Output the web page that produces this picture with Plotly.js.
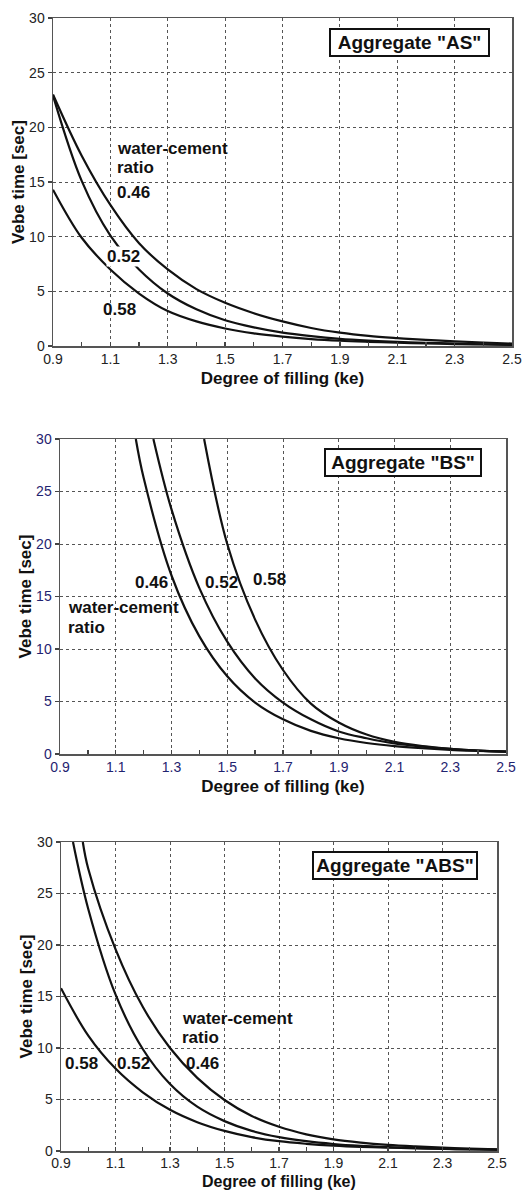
<!DOCTYPE html>
<html>
<head>
<meta charset="utf-8">
<script src="https://cdn.plot.ly/plotly-3.0.1.min.js"></script>
<style>html,body{margin:0;padding:0;background:#fff;}#chart{width:529px;height:1191px;}</style>
</head>
<body>
<div id="chart"></div>
<script>
// ---------- data ----------
var xTicks = [0.9, 1.1, 1.3, 1.5, 1.7, 1.9, 2.1, 2.3, 2.5];
var xTickLabels = ['0.9', '1.1', '1.3', '1.5', '1.7', '1.9', '2.1', '2.3', '2.5'];
var yTicks = [0, 5, 10, 15, 20, 25, 30];

// Aggregate "AS"
var AS_x = [0.9, 1.0, 1.1, 1.2, 1.3, 1.4, 1.5, 1.6, 1.7, 1.8, 1.9, 2.0, 2.1, 2.2, 2.3, 2.4, 2.5];
var AS_046 = [23.0, 17.4, 12.9, 9.4, 7.0, 5.2, 3.95, 3.0, 2.25, 1.65, 1.22, 0.92, 0.72, 0.56, 0.43, 0.32, 0.22];
var AS_052 = [22.9, 15.1, 10.1, 7.0, 4.8, 3.35, 2.35, 1.7, 1.22, 0.9, 0.66, 0.5, 0.38, 0.29, 0.22, 0.16, 0.11];
var AS_058 = [14.3, 9.9, 7.0, 4.8, 3.2, 2.25, 1.6, 1.15, 0.85, 0.63, 0.48, 0.38, 0.3, 0.24, 0.18, 0.14, 0.1];

// Aggregate "BS"
var BS_046_x = [1.172, 1.2, 1.3, 1.4, 1.5, 1.6, 1.7, 1.8, 1.9, 2.0, 2.1, 2.2, 2.3, 2.4, 2.5];
var BS_046 = [30, 26.3, 17.0, 11.2, 7.4, 4.9, 3.3, 2.2, 1.5, 1.05, 0.75, 0.55, 0.4, 0.3, 0.22];
var BS_052_x = [1.235, 1.3, 1.4, 1.5, 1.6, 1.7, 1.8, 1.9, 2.0, 2.1, 2.2, 2.3, 2.4, 2.5];
var BS_052 = [30, 23.3, 15.8, 10.7, 7.2, 4.9, 3.3, 2.15, 1.5, 1.0, 0.7, 0.48, 0.32, 0.22];
var BS_058_x = [1.417, 1.5, 1.6, 1.7, 1.8, 1.9, 2.0, 2.1, 2.2, 2.3, 2.4, 2.5];
var BS_058 = [30, 20.0, 12.8, 8.0, 4.8, 3.0, 1.85, 1.15, 0.75, 0.5, 0.33, 0.22];

// Aggregate "ABS"
var ABS_046_x = [0.98, 1.0, 1.1, 1.2, 1.3, 1.4, 1.5, 1.6, 1.7, 1.8, 1.9, 2.0, 2.1, 2.2, 2.3, 2.4, 2.5];
var ABS_046 = [30, 27.4, 19.6, 14.0, 10.0, 7.1, 4.95, 3.4, 2.35, 1.62, 1.13, 0.82, 0.6, 0.45, 0.33, 0.23, 0.15];
var ABS_052_x = [0.944, 1.0, 1.1, 1.2, 1.3, 1.4, 1.5, 1.6, 1.7, 1.8, 1.9, 2.0, 2.1, 2.2, 2.3, 2.4, 2.5];
var ABS_052 = [30, 23.5, 15.2, 9.9, 6.5, 4.3, 2.9, 1.95, 1.35, 0.95, 0.68, 0.5, 0.38, 0.29, 0.22, 0.16, 0.12];
var ABS_058_x = [0.9, 1.0, 1.1, 1.2, 1.3, 1.4, 1.5, 1.6, 1.7, 1.8, 1.9, 2.0, 2.1, 2.2, 2.3, 2.4, 2.5];
var ABS_058 = [15.8, 11.2, 8.0, 5.7, 4.0, 2.8, 1.95, 1.35, 0.95, 0.7, 0.52, 0.4, 0.32, 0.26, 0.21, 0.17, 0.14];

var panelTitles = ['Aggregate "AS"', 'Aggregate "BS"', 'Aggregate "ABS"'];
var xTitle = 'Degree of filling (ke)';
var yTitle = 'Vebe time [sec]';

// ---------- helpers ----------
var W = 529, H = 1191;
function px(v) { return v / W; }
function py(v) { return 1 - v / H; }
var FAM = 'Liberation Sans, Arial, Helvetica, sans-serif';

function line(x, y, xa, ya, name) {
  return {
    x: x, y: y, xaxis: xa, yaxis: ya, name: name,
    type: 'scatter', mode: 'lines',
    line: { color: '#111', width: 2.2, shape: 'spline', smoothing: 1 },
    hoverinfo: 'x+y+name'
  };
}

var data = [
  line(AS_x, AS_046, 'x', 'y', '0.46'),
  line(AS_x, AS_052, 'x', 'y', '0.52'),
  line(AS_x, AS_058, 'x', 'y', '0.58'),
  line(BS_046_x, BS_046, 'x2', 'y2', '0.46'),
  line(BS_052_x, BS_052, 'x2', 'y2', '0.52'),
  line(BS_058_x, BS_058, 'x2', 'y2', '0.58'),
  line(ABS_046_x, ABS_046, 'x3', 'y3', '0.46'),
  line(ABS_052_x, ABS_052, 'x3', 'y3', '0.52'),
  line(ABS_058_x, ABS_058, 'x3', 'y3', '0.58')
];

function xAxis(domain, anchor, tickColor, standoff, titleText, labelShift) {
  return {
    domain: domain, anchor: anchor,
    range: [0.9, 2.5], tickmode: 'array', tickvals: xTicks, ticktext: xTickLabels,
    ticks: 'inside', ticklen: 4, tickwidth: 1.3, tickcolor: '#444',
    ticklabelstandoff: labelShift,
    minor: { tickmode: 'linear', tick0: 0.9, dtick: 0.1, ticks: 'inside', ticklen: 4, tickwidth: 1.3, tickcolor: '#444', showgrid: false },
    showline: true, linecolor: '#555', linewidth: 1.5, mirror: true,
    showgrid: true, gridcolor: '#555', griddash: 'dot', gridwidth: 1,
    zeroline: false, fixedrange: true,
    tickfont: { family: FAM, size: 14, color: tickColor },
    title: { text: titleText, standoff: standoff, font: { family: FAM, size: 17, color: '#111', weight: 'bold' } }
  };
}
function yAxis(domain, anchor, tickColor, standoff) {
  return {
    domain: domain, anchor: anchor,
    range: [0, 30], tickmode: 'array', tickvals: yTicks,
    ticks: 'outside', ticklen: 4, tickwidth: 1.3, tickcolor: '#444',
    showline: true, linecolor: '#555', linewidth: 1.5, mirror: true,
    showgrid: true, gridcolor: '#555', griddash: 'dot', gridwidth: 1,
    zeroline: false, fixedrange: true,
    tickfont: { family: FAM, size: 14, color: tickColor },
    title: { text: yTitle, standoff: standoff, font: { family: FAM, size: 17, color: '#111', weight: 'bold' } }
  };
}

function lab(text, x, y, xa, ya, bg) {
  var a = {
    text: text, x: x, y: y, xref: xa, yref: ya,
    xanchor: 'left', yanchor: 'middle', showarrow: false, align: 'left',
    font: { family: FAM, size: 17, color: '#111', weight: 'bold' }
  };
  if (bg) { a.bgcolor = '#fff'; a.borderpad = 0; }
  return a;
}
function box(text, cx, cy, w) {
  return {
    text: text, x: px(cx), y: py(cy), xref: 'paper', yref: 'paper',
    xanchor: 'center', yanchor: 'middle', showarrow: false,
    width: w, height: 23, borderpad: 1, borderwidth: 2,
    bordercolor: '#111', bgcolor: '#fff',
    font: { family: FAM, size: 19, color: '#111', weight: 'bold' }
  };
}

var annotations = [
  box(panelTitles[0], 409.5, 42.5, 155),
  box(panelTitles[1], 403, 462.5, 152),
  box(panelTitles[2], 395, 865, 160),

  lab('water-cement', 1.115, 18.1, 'x', 'y'),
  lab('ratio', 1.115, 16.3, 'x', 'y'),
  lab('0.46', 1.115, 14.0, 'x', 'y'),
  lab('0.52', 1.084, 8.2, 'x', 'y', true),
  lab('0.58', 1.069, 3.3, 'x', 'y'),

  lab('0.46', 1.163, 16.3, 'x2', 'y2'),
  lab('0.52', 1.412, 16.3, 'x2', 'y2'),
  lab('0.58', 1.584, 16.6, 'x2', 'y2'),
  lab('water-cement', 0.922, 13.95, 'x2', 'y2'),
  lab('ratio', 0.922, 12.0, 'x2', 'y2'),

  lab('water-cement', 1.336, 12.9, 'x3', 'y3'),
  lab('ratio', 1.336, 11.06, 'x3', 'y3'),
  lab('0.58', 0.906, 8.5, 'x3', 'y3'),
  lab('0.52', 1.098, 8.5, 'x3', 'y3'),
  lab('0.46', 1.352, 8.5, 'x3', 'y3'),

  // bottom panel's x-axis title, kept fully inside the page
  {
    text: xTitle, x: px((61 + 497) / 2), y: 0, xref: 'paper', yref: 'paper',
    xanchor: 'center', yanchor: 'bottom', showarrow: false, borderpad: 0,
    font: { family: FAM, size: 16, color: '#111', weight: 'bold' }
  }
];

var layout = {
  width: W, height: H,
  margin: { l: 0, r: 0, t: 0, b: 0 },
  paper_bgcolor: '#fff', plot_bgcolor: '#fff',
  showlegend: false,
  xaxis: xAxis([px(53), px(512)], 'y', '#222', 6, xTitle, 0),
  yaxis: yAxis([py(346), py(18)], 'x', '#222', 0),
  xaxis2: xAxis([px(60), px(506)], 'y2', '#1f2370', 6, xTitle, 0),
  yaxis2: yAxis([py(754), py(439)], 'x2', '#1f2370', 0),
  xaxis3: xAxis([px(61), px(497)], 'y3', '#222', 6, '', -1),
  yaxis3: yAxis([py(1151), py(842)], 'x3', '#222', 0),
  annotations: annotations
};

Plotly.newPlot('chart', data, layout, { staticPlot: true, displayModeBar: false });
</script>
</body>
</html>
